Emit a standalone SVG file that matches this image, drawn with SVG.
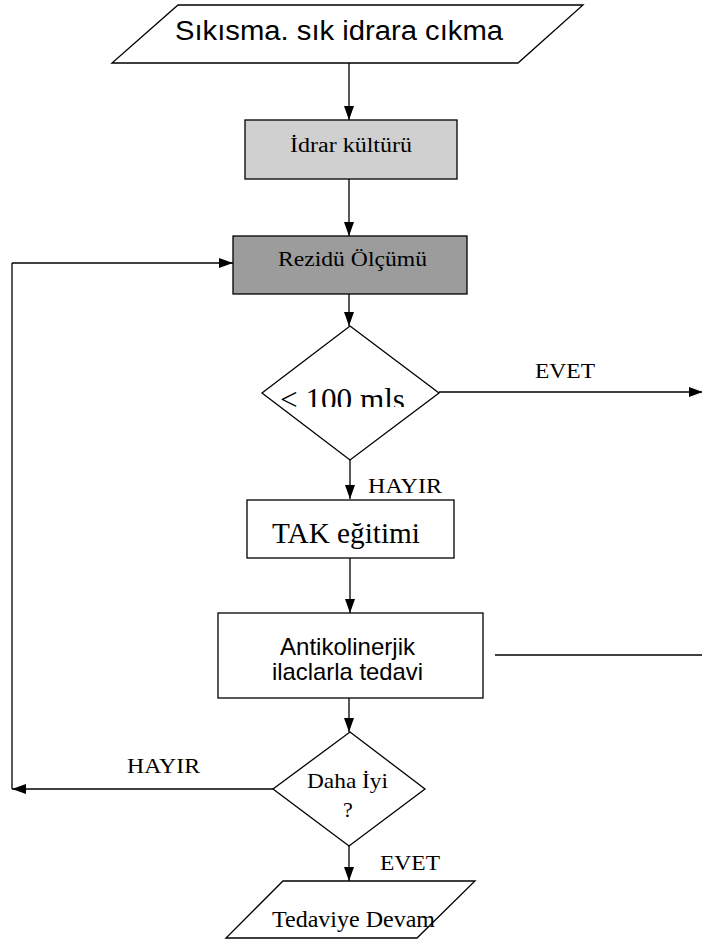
<svg xmlns="http://www.w3.org/2000/svg" width="702" height="940" viewBox="0 0 702 940">
<style>
.shape{stroke:#000;stroke-width:1.3;fill:#fff}
.line{stroke:#000;stroke-width:1.3;fill:none}
.serif{font-family:"Liberation Serif","Times New Roman",serif;fill:#000}
.sans{font-family:"Liberation Sans",Arial,sans-serif;fill:#000}
</style>
<defs>
<marker id="arr" markerUnits="userSpaceOnUse" markerWidth="15" markerHeight="11" refX="14" refY="5" orient="auto">
<path d="M0,0 L14,5 L0,10 z" fill="#000"/>
</marker>
<clipPath id="clipMls"><rect x="260" y="370" width="200" height="37"/></clipPath>
</defs>
<rect width="702" height="940" fill="#fff"/>
<g id="connectors">
<line class="line" x1="349" y1="63" x2="349" y2="120" marker-end="url(#arr)"/>
<line class="line" x1="349" y1="179" x2="349" y2="236" marker-end="url(#arr)"/>
<line class="line" x1="349" y1="294" x2="349" y2="326" marker-end="url(#arr)"/>
<line class="line" x1="439" y1="392" x2="703" y2="392" marker-end="url(#arr)"/>
<line class="line" x1="350" y1="441" x2="350" y2="499" marker-end="url(#arr)"/>
<line class="line" x1="350" y1="558" x2="350" y2="613" marker-end="url(#arr)"/>
<line class="line" x1="495" y1="655" x2="702" y2="655"/>
<line class="line" x1="349" y1="683" x2="349" y2="732" marker-end="url(#arr)"/>
<line class="line" x1="273" y1="789" x2="12" y2="789" marker-end="url(#arr)"/>
<line class="line" x1="12" y1="789" x2="12" y2="263"/>
<line class="line" x1="12" y1="263" x2="233" y2="263" marker-end="url(#arr)"/>
<line class="line" x1="349" y1="825" x2="349" y2="881" marker-end="url(#arr)"/>
<text class="serif" x="535" y="378" font-size="21" textLength="60" lengthAdjust="spacingAndGlyphs">EVET</text>
<text class="serif" x="368" y="493" font-size="21" textLength="74" lengthAdjust="spacingAndGlyphs">HAYIR</text>
<text class="serif" x="127" y="773" font-size="21" textLength="73" lengthAdjust="spacingAndGlyphs">HAYIR</text>
<text class="serif" x="380" y="870" font-size="21" textLength="60" lengthAdjust="spacingAndGlyphs">EVET</text>
</g>
<g id="start">
<polygon class="shape" points="178,5 583,5 518,63 112,63"/>
<text class="sans" x="175" y="40" font-size="27" textLength="328" lengthAdjust="spacingAndGlyphs">Sıkısma. sık idrara cıkma</text>
</g>
<g id="idrar">
<rect x="245" y="120" width="212" height="59" fill="#d0d0d0" stroke="#000" stroke-width="1.3"/>
<text class="serif" x="290" y="152" font-size="20" textLength="122" lengthAdjust="spacingAndGlyphs">İdrar kültürü</text>
</g>
<g id="rezidu">
<rect x="233" y="236" width="234" height="58" fill="#9c9c9c" stroke="#000" stroke-width="1.3"/>
<text class="serif" x="278" y="266" font-size="20" textLength="149" lengthAdjust="spacingAndGlyphs">Rezidü Ölçümü</text>
</g>
<g id="decision1">
<polygon class="shape" points="350,326 439,393 350,460 262,393" fill="none"/>
<text class="serif" x="280" y="410" font-size="32" textLength="125" lengthAdjust="spacingAndGlyphs" clip-path="url(#clipMls)">&lt; 100 mls</text>
</g>
<g id="tak">
<rect class="shape" x="247" y="500" width="207" height="58"/>
<text class="serif" x="272" y="543" font-size="30" textLength="148" lengthAdjust="spacingAndGlyphs">TAK eğitimi</text>
</g>
<g id="antikolinerjik">
<rect class="shape" x="218" y="613" width="265" height="85" fill="none"/>
<text class="sans" x="280" y="655" font-size="24" textLength="135" lengthAdjust="spacingAndGlyphs">Antikolinerjik</text>
<text class="sans" x="272" y="680" font-size="24" textLength="151" lengthAdjust="spacingAndGlyphs">ilaclarla tedavi</text>
</g>
<g id="decision2">
<polygon class="shape" points="350,732 425,789 349,846 273,789" fill="none"/>
<text class="serif" x="307" y="788" font-size="22" textLength="81" lengthAdjust="spacingAndGlyphs">Daha İyi</text>
<text class="serif" x="348" y="817" font-size="22" text-anchor="middle">?</text>
</g>
<g id="end">
<polygon class="shape" points="283,881 475,881 417,938 226,938" fill="none"/>
<text class="serif" x="272" y="927" font-size="23" textLength="163" lengthAdjust="spacingAndGlyphs">Tedaviye Devam</text>
</g>
</svg>
